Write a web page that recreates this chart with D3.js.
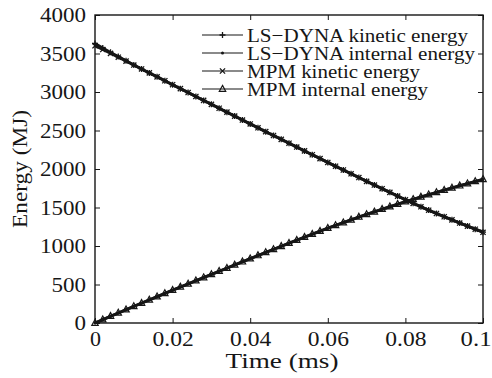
<!DOCTYPE html>
<html>
<head>
<meta charset="utf-8">
<script src="https://cdn.jsdelivr.net/npm/d3@7"></script>
<style>
  body { margin: 0; background: #fff; }
  svg { display: block; font-family: "Liberation Serif", "Times New Roman", serif; }
</style>
</head>
<body>
<div id="chart"></div>
<script>
// sampling interval of the curves (ms)
const timeStep = 0.002;

const lsKinetic = [3630, 3572, 3515, 3460, 3405, 3352, 3300, 3248, 3197, 3146,
  3094, 3043, 2993, 2942, 2891, 2840, 2789, 2738, 2687, 2636,
  2586, 2535, 2485, 2435, 2385, 2335, 2285, 2235, 2185, 2135,
  2086, 2036, 1987, 1938, 1889, 1841, 1793, 1745, 1697, 1649,
  1601, 1555, 1510, 1466, 1423, 1381, 1340, 1299, 1259, 1219, 1180];

const lsInternal = [0, 43, 86, 129, 172, 215, 257, 299, 341, 383,
  425, 466, 507, 548, 589, 630, 671, 712, 753, 794,
  835, 875, 915, 955, 995, 1035, 1074, 1113, 1152, 1191,
  1230, 1267, 1303, 1339, 1375, 1410, 1443, 1476, 1509, 1542,
  1575, 1605, 1635, 1665, 1695, 1725, 1753, 1781, 1809, 1837, 1865];

const mpmKinetic = [3600, 3552, 3502, 3452, 3401, 3350, 3299, 3248, 3197, 3146,
  3095, 3044, 2993, 2942, 2891, 2840, 2789, 2738, 2687, 2636,
  2585, 2535, 2485, 2435, 2385, 2335, 2285, 2235, 2185, 2135,
  2085, 2036, 1987, 1938, 1889, 1840, 1792, 1744, 1696, 1648,
  1600, 1554, 1509, 1465, 1422, 1380, 1339, 1298, 1258, 1218, 1178];

const mpmInternal = [0, 44, 88, 131, 174, 217, 259, 301, 343, 385,
  427, 468, 509, 550, 591, 632, 673, 714, 755, 796,
  837, 877, 917, 957, 997, 1037, 1076, 1115, 1154, 1193,
  1232, 1269, 1305, 1341, 1377, 1412, 1445, 1478, 1511, 1544,
  1577, 1607, 1637, 1667, 1697, 1727, 1755, 1783, 1811, 1839, 1867];

const seriesNames = ["LS\u2212DYNA kinetic energy", "LS\u2212DYNA internal energy",
  "MPM kinetic energy", "MPM internal energy"];
const seriesValues = [lsKinetic, lsInternal, mpmKinetic, mpmInternal];
const seriesMarkers = ["plus", "dot", "cross", "triangle"];

const xTicks = [0, 0.02, 0.04, 0.06, 0.08, 0.1];
const xTickLabels = ["0", "0.02", "0.04", "0.06", "0.08", "0.1"];
const yTicks = [0, 500, 1000, 1500, 2000, 2500, 3000, 3500, 4000];

const width = 492, height = 378;
const margin = { top: 15, right: 9, bottom: 55, left: 95 };
const innerWidth = width - margin.left - margin.right;
const innerHeight = height - margin.top - margin.bottom;
const ink = "#161616";

const svg = d3.select("#chart").append("svg")
  .attr("width", width)
  .attr("height", height);

const g = svg.append("g")
  .attr("transform", `translate(${margin.left},${margin.top})`);

const xScale = d3.scaleLinear().domain([0, 0.1]).range([0, innerWidth]);
const yScale = d3.scaleLinear().domain([0, 4000]).range([innerHeight, 0]);

// data for each series: [{t, e}]
const series = seriesValues.map((vals, k) => ({
  name: seriesNames[k],
  marker: seriesMarkers[k],
  points: vals.map((e, i) => ({ t: i * timeStep, e }))
}));

// axes with inward ticks, box on all four sides
const xAxisG = g.append("g")
  .attr("transform", `translate(0,${innerHeight})`)
  .call(d3.axisBottom(xScale).tickValues(xTicks).tickSize(-5).tickPadding(9)
    .tickFormat((d, i) => xTickLabels[i]))
  .call(a => a.select(".domain").remove());
g.append("g")
  .call(d3.axisTop(xScale).tickValues(xTicks).tickSize(-5).tickFormat(""))
  .call(a => a.select(".domain").remove());
const yAxisG = g.append("g")
  .call(d3.axisLeft(yScale).tickValues(yTicks).tickSize(-5).tickPadding(9)
    .tickFormat(d3.format("d")))
  .call(a => a.select(".domain").remove());
g.append("g")
  .attr("transform", `translate(${innerWidth},0)`)
  .call(d3.axisRight(yScale).tickValues(yTicks).tickSize(-5).tickFormat(""))
  .call(a => a.select(".domain").remove());

g.selectAll(".tick line").attr("stroke", ink).attr("stroke-width", 1);
g.selectAll(".tick text")
  .attr("fill", ink)
  .style("font-size", "20px")
  .style("font-family", "Liberation Serif");

// stretch tick labels a little, like the original (wide serif face)
xAxisG.selectAll(".tick text")
  .attr("textLength", (d, i) => xTickLabels[i].length === 1 ? 11 : xTickLabels[i].length * 10.3)
  .attr("lengthAdjust", "spacingAndGlyphs");
xAxisG.selectAll(".tick:last-of-type text")
  .attr("text-anchor", "end").attr("x", 8);
yAxisG.selectAll(".tick text")
  .attr("textLength", d => String(d).length * 11.5)
  .attr("lengthAdjust", "spacingAndGlyphs")
  .attr("dy", "0.34em");

g.append("rect")
  .attr("width", innerWidth)
  .attr("height", innerHeight)
  .attr("fill", "none")
  .attr("stroke", ink)
  .attr("stroke-width", 1.4);

// marker drawing
const drawMarker = (sel, type) => {
  if (type === "plus") {
    sel.append("path").attr("d", "M-3,0H3M0,-3V3")
      .attr("stroke", ink).attr("stroke-width", 1.3).attr("fill", "none");
  } else if (type === "dot") {
    sel.append("circle").attr("r", 1.5).attr("fill", ink);
  } else if (type === "cross") {
    sel.append("path").attr("d", "M-2.6,-2.6L2.6,2.6M-2.6,2.6L2.6,-2.6")
      .attr("stroke", ink).attr("stroke-width", 1.3).attr("fill", "none");
  } else if (type === "triangle") {
    sel.append("path").attr("d", "M0,-3.6L3.2,2.3H-3.2Z")
      .attr("stroke", ink).attr("stroke-width", 1.2).attr("fill", "none");
  }
};

const line = d3.line().x(d => xScale(d.t)).y(d => yScale(d.e));

const plot = g.append("g");
series.forEach(s => {
  plot.append("path")
    .datum(s.points)
    .attr("d", line)
    .attr("fill", "none")
    .attr("stroke", ink)
    .attr("stroke-width", 2.8);
});
series.forEach(s => {
  plot.selectAll(null)
    .data(s.points)
    .join("g")
    .attr("transform", d => `translate(${xScale(d.t)},${yScale(d.e)})`)
    .each(function () { drawMarker(d3.select(this), s.marker); });
});

// legend (widths)
const legendWidths = [221, 228, 173, 181];
const legend = svg.append("g").attr("transform", "translate(202,35)");
series.forEach((s, i) => {
  const row = legend.append("g").attr("transform", `translate(0,${i * 18})`);
  row.append("line").attr("x1", 0).attr("x2", 41).attr("y1", 0).attr("y2", 0)
    .attr("stroke", ink).attr("stroke-width", 1.2);
  drawMarker(row.append("g").attr("transform", "translate(20.5,0)"), s.marker);
  row.append("text")
    .attr("x", 45).attr("y", 6.5)
    .attr("fill", ink)
    .attr("textLength", legendWidths[i])
    .attr("lengthAdjust", "spacingAndGlyphs")
    .style("font-size", "19px")
    .text(s.name);
});

// axis labels
svg.append("text")
  .attr("x", 282)
  .attr("y", 368)
  .attr("text-anchor", "middle")
  .attr("fill", ink)
  .attr("textLength", 113)
  .attr("lengthAdjust", "spacingAndGlyphs")
  .style("font-size", "20px")
  .text("Time (ms)");

svg.append("text")
  .attr("transform", "translate(27,169) rotate(-90)")
  .attr("text-anchor", "middle")
  .attr("fill", ink)
  .attr("textLength", 118)
  .attr("lengthAdjust", "spacingAndGlyphs")
  .style("font-size", "20px")
  .text("Energy (MJ)");
</script>
</body>
</html>
